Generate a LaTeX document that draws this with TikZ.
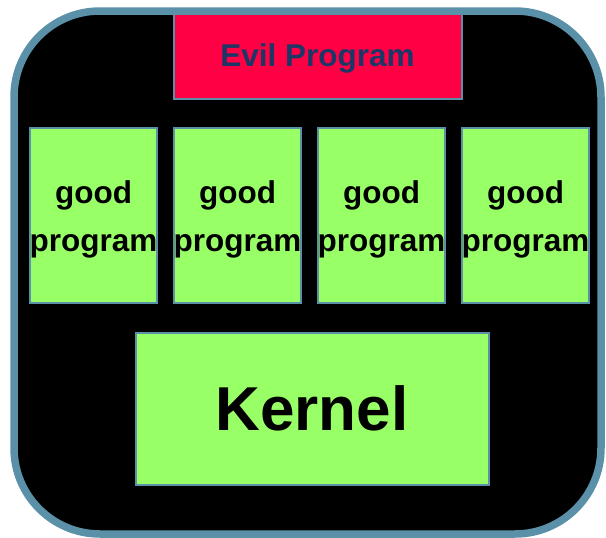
\documentclass[tikz,border=0pt]{standalone}
\usepackage{fontspec}
\setmainfont{Liberation Sans}
\definecolor{rimblue}{HTML}{5A91A9}
\definecolor{goodgreen}{HTML}{99FF66}
\definecolor{evilred}{HTML}{FF0044}
\definecolor{evilnavy}{HTML}{1C3766}
\tikzset{
  box/.style={draw=rimblue, line width=2pt, inner sep=0pt, anchor=center},
  goodbox/.style={box, fill=goodgreen, minimum width=127pt, minimum height=175pt},
  goodtext/.style={align=center, inner sep=0pt, font=\fontsize{31.5}{48}\selectfont\bfseries},
}
\begin{document}
\begin{tikzpicture}[x=1pt,y=-1pt]
\useasboundingbox (0,0) rectangle (606,538);
\draw[rimblue, line width=7.5pt, fill=black, rounded corners=86pt] (14,11) rectangle (601,534);
\node[box, fill=evilred, minimum width=288pt, minimum height=85pt] (evil) at (317.5,56) {};
\node[font=\fontsize{31.5}{36}\selectfont\bfseries, text=evilnavy, inner sep=0pt] (eviltext) at ([yshift=-2pt]evil.center) {Evil Program};
\node[goodbox] (g1) at (93.5,215.5) {};
\node[goodbox] (g2) at (237.5,215.5) {};
\node[goodbox] (g3) at (381.5,215.5) {};
\node[goodbox] (g4) at (525.5,215.5) {};
\node[goodtext] (t1) at ([yshift=-4pt]g1.center) {good\\program};
\node[goodtext] (t2) at ([yshift=-4pt]g2.center) {good\\program};
\node[goodtext] (t3) at ([yshift=-4pt]g3.center) {good\\program};
\node[goodtext] (t4) at ([yshift=-4pt]g4.center) {good\\program};
\node[box, fill=goodgreen, minimum width=353pt, minimum height=152pt,
  font=\fontsize{62}{70}\selectfont\bfseries] (kernel) at (312,408.5) {Kernel};
\end{tikzpicture}
\end{document}
